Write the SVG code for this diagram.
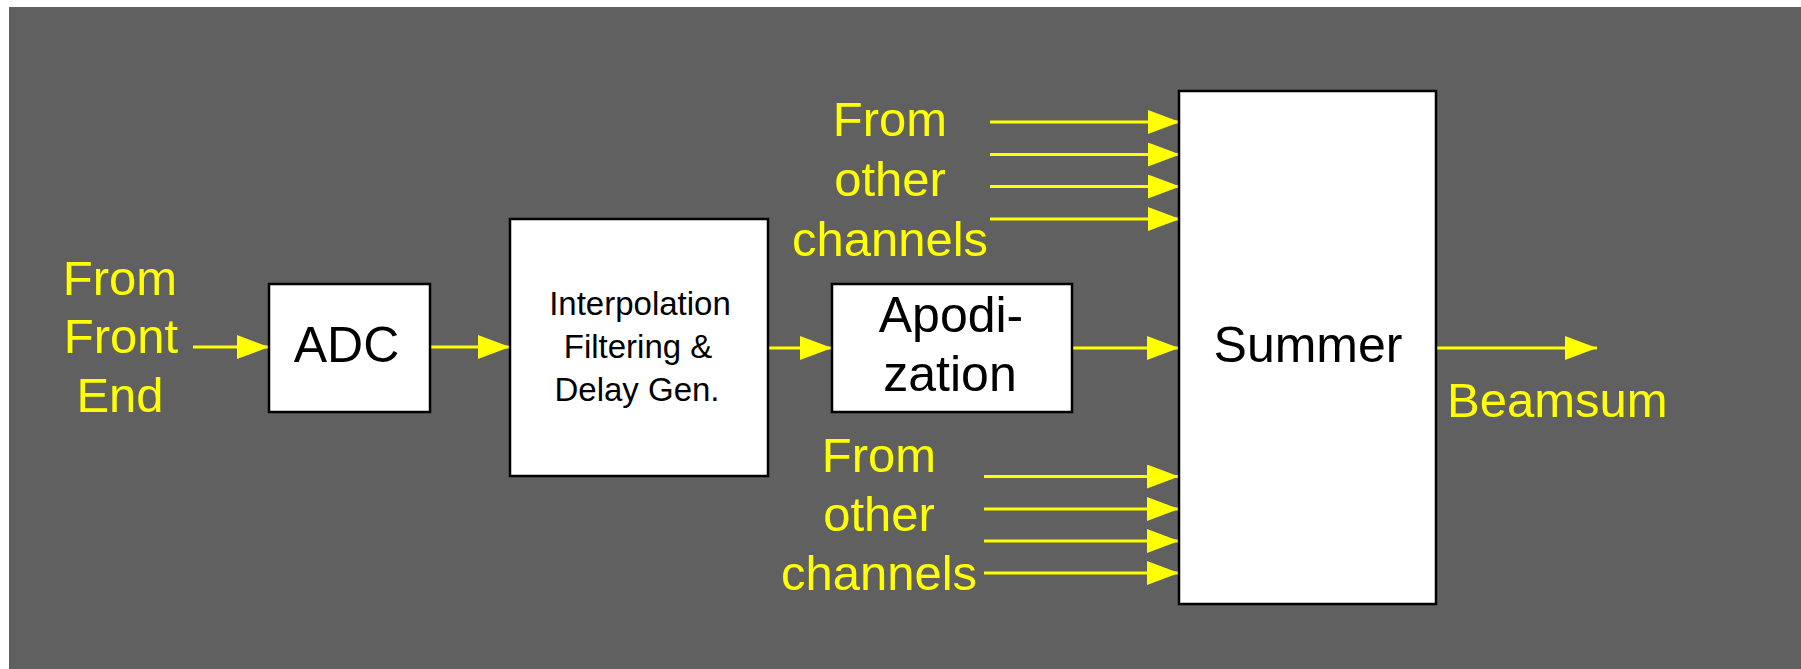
<svg xmlns="http://www.w3.org/2000/svg" width="1801" height="669" viewBox="0 0 1801 669">
  <defs>
    <marker id="head" markerUnits="userSpaceOnUse" markerWidth="32" markerHeight="24" viewBox="0 0 32 24" refX="32" refY="12" orient="auto">
      <path d="M0,0 L32,12 L0,24 Z" fill="#ffff00"/>
    </marker>
    <style>
      .box { fill: #ffffff; stroke: #000000; stroke-width: 2.5; }
      .wire { stroke: #ffff00; stroke-width: 3; fill: none; marker-end: url(#head); }
      .lbl { font-family: "Liberation Sans", Arial, sans-serif; font-size: 49px; fill: #ffff00; }
      .big { font-family: "Liberation Sans", Arial, sans-serif; font-size: 50px; fill: #000000; text-anchor: middle; }
      .small { font-family: "Liberation Sans", Arial, sans-serif; font-size: 33px; fill: #000000; text-anchor: middle; }
      .mid { text-anchor: middle; }
    </style>
  </defs>

  <rect width="1801" height="669" fill="#ffffff"/>
  <rect x="9" y="7" width="1792" height="662" fill="#606060"/>

  <!-- signal path connectors -->
  <g id="connectors">
    <line class="wire" x1="193" y1="347" x2="269" y2="347"/>
    <line class="wire" x1="430" y1="347" x2="510" y2="347"/>
    <line class="wire" x1="768" y1="348" x2="832" y2="348"/>
    <line class="wire" x1="1072" y1="348" x2="1179" y2="348"/>
    <line class="wire" x1="1437" y1="348" x2="1597" y2="348"/>
    <line class="wire" x1="990" y1="122" x2="1180" y2="122"/>
    <line class="wire" x1="990" y1="154.5" x2="1180" y2="154.5"/>
    <line class="wire" x1="990" y1="186.5" x2="1180" y2="186.5"/>
    <line class="wire" x1="990" y1="219" x2="1180" y2="219"/>
    <line class="wire" x1="984" y1="476.5" x2="1179" y2="476.5"/>
    <line class="wire" x1="984" y1="509" x2="1179" y2="509"/>
    <line class="wire" x1="984" y1="541" x2="1179" y2="541"/>
    <line class="wire" x1="984" y1="573" x2="1179" y2="573"/>
  </g>

  <g id="front-end-label">
    <text class="lbl mid" x="120" y="295">From</text>
    <text class="lbl mid" x="121" y="353">Front</text>
    <text class="lbl mid" x="120" y="412">End</text>
  </g>

  <g id="adc">
    <rect class="box" x="269" y="284" width="161" height="128"/>
    <text class="big" x="346.5" y="362">ADC</text>
  </g>

  <g id="interpolation">
    <rect class="box" x="510" y="219" width="258" height="257"/>
    <text class="small" x="640" y="315">Interpolation</text>
    <text class="small" x="638" y="358">Filtering &amp;</text>
    <text class="small" x="637" y="401">Delay Gen.</text>
  </g>

  <g id="apodization">
    <rect class="box" x="832" y="284" width="240" height="128"/>
    <text class="big" x="951" y="332">Apodi-</text>
    <text class="big" x="950" y="391">zation</text>
  </g>

  <g id="summer">
    <rect class="box" x="1179" y="91" width="257" height="513"/>
    <text class="big" x="1308" y="362">Summer</text>
  </g>

  <g id="upper-channels-label">
    <text class="lbl mid" x="890" y="136">From</text>
    <text class="lbl mid" x="890" y="196">other</text>
    <text class="lbl mid" x="890" y="256">channels</text>
  </g>

  <g id="lower-channels-label">
    <text class="lbl mid" x="879" y="472">From</text>
    <text class="lbl mid" x="879" y="531">other</text>
    <text class="lbl mid" x="879" y="590">channels</text>
  </g>

  <g id="beamsum-label">
    <text class="lbl" x="1447" y="417">Beamsum</text>
  </g>
</svg>
